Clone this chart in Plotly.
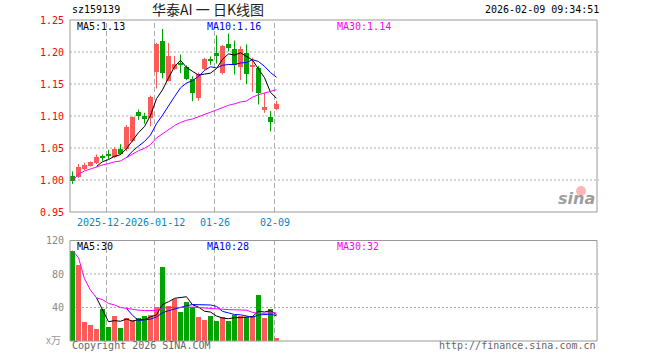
import numpy as np
import plotly.graph_objects as go

# ---------------- data ----------------
opens = [1.007, 1.005, 1.017, 1.022, 1.027, 1.037, 1.039, 1.036, 1.048, 1.049,
         1.061, 1.106, 1.100, 1.097, 1.169, 1.217, 1.155, 1.174, 1.183, 1.176,
         1.158, 1.128, 1.174, 1.189, 1.198, 1.167, 1.213, 1.204, 1.176, 1.198,
         1.178, 1.175, 1.109, 1.099, 1.111]
highs = [1.0135, 1.025, 1.027, 1.029, 1.040, 1.040, 1.047, 1.051, 1.056, 1.086,
         1.099, 1.110, 1.105, 1.132, 1.214, 1.236, 1.214, 1.194, 1.196, 1.179,
         1.162, 1.168, 1.191, 1.193, 1.226, 1.211, 1.229, 1.218, 1.209, 1.212,
         1.191, 1.178, 1.136, 1.108, 1.124]
lows = [0.994, 1.003, 1.015, 1.021, 1.025, 1.030, 1.033, 1.034, 1.039, 1.045,
        1.059, 1.094, 1.088, 1.084, 1.143, 1.159, 1.154, 1.172, 1.167, 1.156,
        1.123, 1.124, 1.172, 1.180, 1.182, 1.165, 1.201, 1.165, 1.156, 1.150,
        1.138, 1.118, 1.105, 1.076, 1.109]
closes = [0.998, 1.021, 1.023, 1.028, 1.036, 1.035, 1.038, 1.048, 1.041, 1.083,
          1.098, 1.100, 1.095, 1.129, 1.213, 1.167, 1.194, 1.182, 1.179, 1.158,
          1.136, 1.165, 1.189, 1.187, 1.193, 1.209, 1.207, 1.180, 1.205, 1.165,
          1.180, 1.136, 1.114, 1.090, 1.118]
volumes = [107.9, 91.1, 23.5, 19.9, 15.1, 38.7, 17.9, 29.9, 16.3, 28.3,
           26.0, 27.5, 29.9, 31.9, 40.7, 88.7, 42.7, 50.7, 34.7, 47.5,
           40.7, 28.7, 26.0, 29.9, 23.9, 28.7, 24.7, 31.9, 30.3, 28.7,
           30.7, 55.9, 27.5, 38.3, 4.7]
date_idx = [6, 14, 24, 34]
date_labels = ["2025-12-29", "2026-01-12", "01-26", "02-09"]
price_ticks = [1.25, 1.20, 1.15, 1.10, 1.05, 1.00, 0.95]
price_grid = [1.20, 1.15, 1.10, 1.05, 1.00]
vol_ticks = [120, 80, 40]
vol_grid = [80, 40]

# ---------------- helpers ----------------
W, H = 660, 360
ML, MR, MT, MB = 70, 63, 20, 19
PW, PH = W - ML - MR, H - MT - MB


def px(x):
    return (x - ML) / PW


def py(y):
    return (H - MB - y) / PH


def ma(vals, n, minp):
    v = np.array(vals, dtype=float)
    out = []
    for i in range(len(v)):
        if i + 1 < minp:
            out.append(None)
        else:
            out.append(float(v[max(0, i - n + 1):i + 1].mean()))
    return out


RED = "#FF5A5A"
GREEN = "#00A400"
MONO = "DejaVu Sans Mono"

n = len(closes)
idx = list(range(n))
up = [c >= o for o, c in zip(opens, closes)]
colors = [RED if u else GREEN for u in up]
base = [min(o, c) for o, c in zip(opens, closes)]
body = [max(abs(c - o), 0.0016) for o, c in zip(opens, closes)]

fig = go.Figure()

# wicks
for flag, col in ((True, RED), (False, GREEN)):
    wx, wy = [], []
    for i in idx:
        if up[i] == flag:
            wx += [i, i, None]
            wy += [lows[i], highs[i], None]
    fig.add_trace(go.Scatter(x=wx, y=wy, mode="lines", line=dict(color=col, width=1),
                             xaxis="x", yaxis="y", hoverinfo="skip", showlegend=False))

# bodies
fig.add_trace(go.Bar(x=idx, y=body, base=base, width=5 / 6, marker=dict(color=colors, line=dict(width=0)),
                     xaxis="x", yaxis="y", showlegend=False))

# price MAs
for vals, col in ((ma(closes, 5, 5), "black"), (ma(closes, 10, 10), "#0000FF"), (ma(closes, 30, 1), "#FF00FF")):
    fig.add_trace(go.Scatter(x=idx, y=vals, mode="lines", line=dict(color=col, width=1),
                             xaxis="x", yaxis="y", showlegend=False, connectgaps=False))

# volume bars
fig.add_trace(go.Bar(x=idx, y=volumes, width=5 / 6, marker=dict(color=colors, line=dict(width=0)),
                     xaxis="x2", yaxis="y2", showlegend=False))
for vals, col in ((ma(volumes, 5, 5), "black"), (ma(volumes, 10, 10), "#0000FF"), (ma(volumes, 30, 1), "#FF00FF")):
    fig.add_trace(go.Scatter(x=idx, y=vals, mode="lines", line=dict(color=col, width=1),
                             xaxis="x2", yaxis="y2", showlegend=False))

xr = [-0.4167, 87.4167]
shapes = []
for g in price_grid:
    shapes.append(dict(type="line", xref="x domain", yref="y", x0=0, x1=1.004, y0=g, y1=g,
                       line=dict(color="#AAAAAA", width=1, dash="2px,2px"), layer="below"))
for g in vol_grid:
    shapes.append(dict(type="line", xref="x2 domain", yref="y2", x0=0, x1=1.004, y0=g, y1=g,
                       line=dict(color="#AAAAAA", width=1, dash="2px,2px"), layer="below"))
for d in date_idx:
    for xa, ya in (("x", "y domain"), ("x2", "y2 domain")):
        shapes.append(dict(type="line", xref=xa, yref=ya, x0=d - 0.33, x1=d - 0.33, y0=0, y1=1,
                           line=dict(color="#AAAAAA", width=1, dash="5px,3px"), layer="below"))
for xa, ya in (("x domain", "y domain"), ("x2 domain", "y2 domain")):
    shapes.append(dict(type="rect", xref=xa, yref=ya, x0=0, x1=1, y0=0, y1=1,
                       line=dict(color="#999999", width=1)))
# sina logo eye
shapes.append(dict(type="circle", xref="paper", yref="paper",
                   x0=px(576), x1=px(586), y0=py(196), y1=py(186),
                   fillcolor="rgba(255,110,110,0.5)", line=dict(width=0)))

ann = []


def text(x, y, s, color, size=10, anchor="left", family=MONO, xref="paper", yref="paper", **kw):
    ann.append(dict(x=x, y=y, xref=xref, yref=yref, text=s, showarrow=False, xanchor=anchor,
                    yanchor="middle", font=dict(family=family, size=size, color=color), **kw))


for t in price_ticks:
    text(px(66), t, f"{t:.2f}", "red", anchor="right", yref="y")
for t in vol_ticks:
    text(px(66), t, str(t), "#888888", anchor="right", yref="y2")
text(px(63), py(339), "x万", "#999999", anchor="right", family="Noto Sans CJK SC", size=10)

for k, (d, lab) in enumerate(zip(date_idx, date_labels)):
    extra = dict(bgcolor="white", borderpad=0) if k > 0 else {}
    text(d - 0.33, py(222), lab, "#0088CC", anchor="center", xref="x", **extra)

text(px(70), py(10), "sz159139", "black")
text(px(150), py(9), "华泰AI 一 日K线图", "#222222", size=14, family="Noto Sans CJK SC")
text(px(601), py(10), "2026-02-09 09:34:51", "black", anchor="right")

text(px(75), py(26), "MA5:1.13", "black")
text(px(205), py(26), "MA10:1.16", "#0000FF")
text(px(335), py(26), "MA30:1.14", "#FF00FF")
text(px(75), py(246.5), "MA5:30", "black")
text(px(205), py(246.5), "MA10:28", "#0000FF")
text(px(335), py(246.5), "MA30:32", "#FF00FF")

text(px(70), py(345.5), "Copyright 2026 SINA.COM", "#666666")
text(px(597.5), py(346), "http://finance.sina.com.cn", "#666666", anchor="right")
text(px(597), py(199), "<b><i>sina</i></b>", "rgba(140,140,140,0.85)", size=16, anchor="right",
     family="DejaVu Sans")

fig.update_layout(
    width=W, height=H, autosize=False,
    margin=dict(l=ML, r=MR, t=MT, b=MB, pad=0),
    paper_bgcolor="white", plot_bgcolor="white",
    showlegend=False, barmode="overlay", bargap=0,
    xaxis=dict(domain=[0, 1], range=xr, showgrid=False, zeroline=False, showticklabels=False,
               ticks="", anchor="y", fixedrange=True),
    xaxis2=dict(domain=[0, 1], range=xr, showgrid=False, zeroline=False, showticklabels=False,
                ticks="", anchor="y2", fixedrange=True),
    yaxis=dict(domain=[py(212), 1], range=[0.95, 1.25], showgrid=False, zeroline=False,
               showticklabels=False, ticks="", fixedrange=True),
    yaxis2=dict(domain=[0, py(240.5)], range=[0, 120], showgrid=False, zeroline=False,
                showticklabels=False, ticks="", fixedrange=True),
    shapes=shapes, annotations=ann,
)

fig.write_html("out.html", config={"displayModeBar": False},
               post_script="document.body.style.margin='0px';document.body.style.padding='0px';")
